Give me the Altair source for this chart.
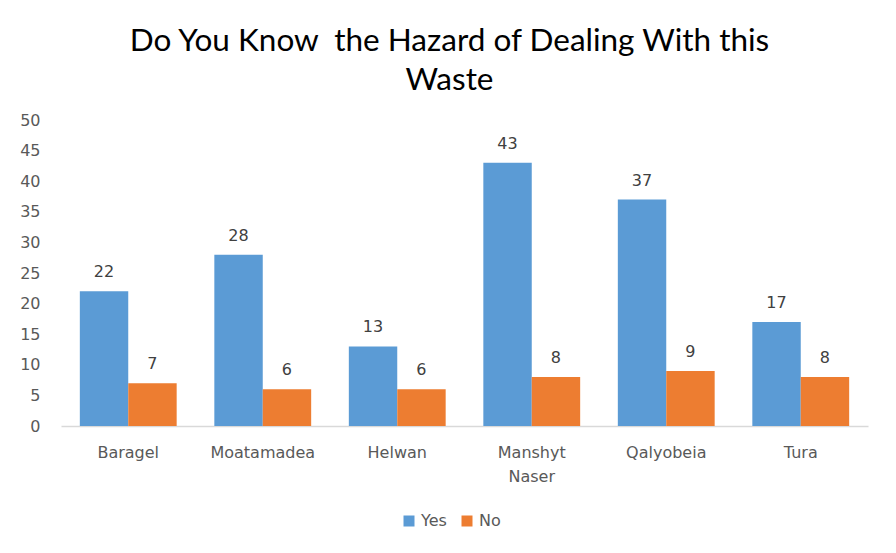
import altair as alt
import pandas as pd

categories = ["Baragel", "Moatamadea", "Helwan", "Manshyt Naser", "Qalyobeia", "Tura"]
yes_values = [22, 28, 13, 43, 37, 17]
no_values = [7, 6, 6, 8, 9, 8]
series = ["Yes", "No"]

rows = []
for c, y, n in zip(categories, yes_values, no_values):
    rows.append({"place": c, "answer": "Yes", "count": y})
    rows.append({"place": c, "answer": "No", "count": n})
df = pd.DataFrame(rows)

FONT = "DejaVu Sans"
GRAY = "#595959"

x = alt.X("place:N", sort=categories, title=None,
          scale=alt.Scale(paddingInner=0.28, paddingOuter=0.14),
          axis=alt.Axis(labelAngle=0, labelFontSize=16, labelColor=GRAY, labelFont=FONT,
                        ticks=False, domainColor="#d9d9d9", domainWidth=1.5,
                        labelPadding=18, labelLineHeight=24,
                        labelExpr="split(datum.label, ' ')"))
y = alt.Y("count:Q", title=None,
          scale=alt.Scale(domain=[0, 50]),
          axis=alt.Axis(values=list(range(0, 51, 5)), grid=False, domain=False, ticks=False,
                        labelFontSize=16, labelColor=GRAY, labelFont=FONT, labelPadding=21))
color = alt.Color("answer:N", sort=series,
                  scale=alt.Scale(domain=series, range=["#5B9BD5", "#ED7D31"]),
                  legend=alt.Legend(title=None, orient="none", direction="horizontal",
                                    legendX=340, legendY=393, symbolType="square",
                                    symbolSize=121, symbolStrokeWidth=0, labelFontSize=16,
                                    labelColor=GRAY, labelFont=FONT, columnPadding=12,
                                    labelOffset=4))

base = alt.Chart(df).encode(x=x, xOffset=alt.XOffset("answer:N", sort=series), y=y)
bars = base.mark_bar().encode(color=color)
labels = base.mark_text(baseline="bottom", dy=-11, fontSize=16, font=FONT, color="#404040").encode(
    text="count:Q")

chart = (bars + labels).properties(
    width=807, height=306,
    autosize=alt.AutoSizeParams(type="none"),
    padding={"left": 61, "top": 120, "right": 28, "bottom": 127},
    title=alt.TitleParams(["Do You Know\u00a0 the Hazard of Dealing With this", "Waste"],
                          fontSize=31.5, font="Lato", fontWeight="normal", color="#000000",
                          anchor="middle", dx=-15, offset=16, lineHeight=39),
).configure(background="white", view=alt.ViewConfig(strokeWidth=0))

chart.save("out.html", embed_options={"renderer": "svg", "actions": False})
